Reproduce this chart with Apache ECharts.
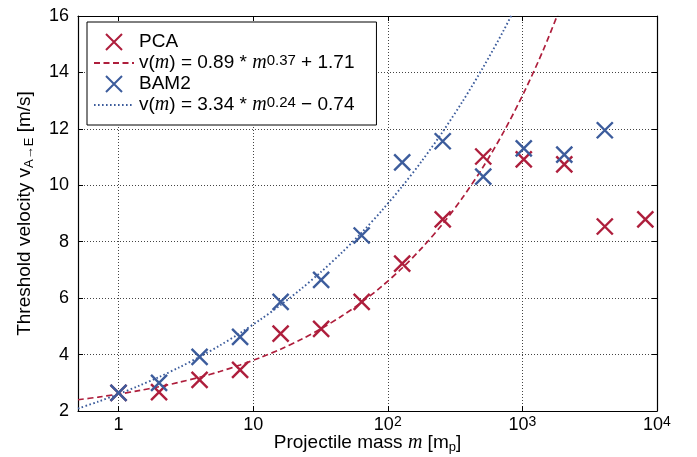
<!DOCTYPE html>
<html>
<head>
<meta charset="utf-8">
<script src="https://cdn.jsdelivr.net/npm/echarts@6/dist/echarts.min.js"></script>
<style>html,body{margin:0;padding:0;background:#fff;}#c{width:697px;height:457px;}</style>
</head>
<body>
<div id="c"></div>
<script>
// Measured data
const massPoints = [1, 2, 4, 8, 16, 32, 64, 128, 256, 512, 1024, 2048, 4096, 8192];
const pcaValues  = [2.64, 2.67, 3.10, 3.46, 4.74, 4.91, 5.87, 7.22, 8.79, 11.02, 10.92, 10.74, 8.54, 8.79];
const bamValues  = [2.64, 3.00, 3.92, 4.63, 5.87, 6.65, 8.22, 10.81, 11.56, 10.31, 11.31, 11.09, 11.95];
// Fit curves
const fitMass = [0.5, 0.707, 1, 1.414, 2, 2.828, 4, 5.657, 8, 11.31, 16, 22.63, 32, 45.25, 64, 90.51, 128, 181.0, 256, 362.0, 512, 724.1, 1024, 1448, 2048];
const pcaFit  = [2.399, 2.493, 2.600, 2.722, 2.860, 3.018, 3.196, 3.400, 3.631, 3.894, 4.192, 4.532, 4.918, 5.357, 5.856, 6.423, 7.068, 7.801, 8.634, 9.581, 10.658, 11.882, 13.274, 14.856, 16.654];
const bamFit  = [2.088, 2.333, 2.600, 2.890, 3.205, 3.547, 3.918, 4.322, 4.762, 5.239, 5.757, 6.321, 6.933, 7.599, 8.322, 9.108, 9.962, 10.890, 11.899, 12.996, 14.187, 15.48, 16.889];
const xTickLabels = {0: '1', 1: '10', 2: '10{sup|2}', 3: '10{sup|3}', 4: '10{sup|4}'};
const yTicks = [2, 4, 6, 8, 10, 12, 14, 16];
const seriesNames = ['PCA', 'v(m) = 0.89 * m^0.37 + 1.71', 'BAM2', 'v(m) = 3.34 * m^0.24 - 0.74'];
const legendLabels = {
  'PCA': 'PCA',
  'v(m) = 0.89 * m^0.37 + 1.71': 'v({i|m}) = 0.89 * {i|m}{sup|0.37} + 1.71',
  'BAM2': 'BAM2',
  'v(m) = 3.34 * m^0.24 - 0.74': 'v({i|m}) = 3.34 * {i|m}{sup|0.24} \u2212 0.74'
};

const RED = '#AE1E3C';
const BLUE = '#3C5C9C';
const FONT = '"Liberation Sans", Arial, sans-serif';
const SERIF = '"Liberation Serif", "Times New Roman", serif';

const pair = (xs, ys) => ys.map((v, i) => [xs[i], v]);
const xPath = 'path://M0,0L10,10M10,0L0,10';

const chart = echarts.init(document.getElementById('c'), null, {renderer: 'canvas'});
const gridLine = {show: true, lineStyle: {color: '#444', width: 1, type: [1, 2]}};
const tickStyle = {show: true, inside: true, length: 5, lineStyle: {color: '#000', width: 1}};
const axisLine = {show: true, lineStyle: {color: '#000', width: 1.2}};
const hiddenDot = {color: 'rgba(0,0,0,0)', borderWidth: 0, opacity: 0};

chart.setOption({
  animation: false,
  textStyle: {fontFamily: FONT},
  grid: {left: 78, right: 40, top: 16, bottom: 46, containLabel: false, outerBoundsMode: 'none'},
  legend: {
    orient: 'vertical',
    left: 87, top: 22,
    padding: [10, 22, 10, 6],
    itemGap: 1,
    itemWidth: 40, itemHeight: 16,
    backgroundColor: '#fff',
    borderColor: '#000', borderWidth: 1,
    data: [
      {name: seriesNames[0]},
      {name: seriesNames[1], itemStyle: hiddenDot},
      {name: seriesNames[2]},
      {name: seriesNames[3], itemStyle: hiddenDot}
    ],
    formatter: n => legendLabels[n],
    textStyle: {
      fontFamily: FONT, fontSize: 19, color: '#000', lineHeight: 20,
      rich: {
        i: {fontFamily: SERIF, fontStyle: 'italic', fontSize: 20, color: '#000', lineHeight: 20},
        sup: {fontFamily: FONT, fontSize: 15, color: '#000', verticalAlign: 'top', lineHeight: 12}
      }
    }
  },
  xAxis: [{
    type: 'log', logBase: 10, min: 0.5, max: 10000,
    name: 'Projectile mass {i|m} [m{sub|p}]',
    nameLocation: 'middle', nameGap: 21, nameMoveOverlap: false,
    nameTextStyle: {
      fontFamily: FONT, fontSize: 19, color: '#000', lineHeight: 22,
      rich: {
        i: {fontFamily: SERIF, fontStyle: 'italic', fontSize: 20, color: '#000', lineHeight: 22},
        sub: {fontFamily: FONT, fontSize: 13, color: '#000', verticalAlign: 'bottom', lineHeight: 10}
      }
    },
    axisLine: axisLine,
    axisTick: tickStyle,
    minorTick: {show: false},
    splitLine: gridLine,
    axisLabel: {
      margin: 4,
      fontFamily: FONT, fontSize: 18, color: '#000', lineHeight: 20,
      formatter: v => {
        const e = Math.round(Math.log10(v));
        if (Math.abs(Math.log10(v) - e) > 1e-6) return '';
        return xTickLabels[e] !== undefined ? xTickLabels[e] : '';
      },
      rich: {
        sup: {fontFamily: FONT, fontSize: 14, color: '#000', verticalAlign: 'top', lineHeight: 11}
      }
    }
  }, {
    type: 'log', logBase: 10, min: 0.5, max: 10000, position: 'top',
    axisLine: axisLine, axisTick: tickStyle, axisLabel: {show: false}, splitLine: {show: false}
  }],
  yAxis: [{
    type: 'value', min: yTicks[0], max: yTicks[yTicks.length - 1], interval: 2,
    name: 'Threshold velocity v{sub|A\u2192E} [m/s]',
    nameLocation: 'middle', nameGap: 42, nameMoveOverlap: false,
    nameTextStyle: {
      fontFamily: FONT, fontSize: 19, color: '#000', lineHeight: 22,
      rich: {
        sub: {fontFamily: FONT, fontSize: 13, color: '#000', verticalAlign: 'bottom', lineHeight: 10}
      }
    },
    axisLine: axisLine, axisTick: tickStyle, splitLine: gridLine,
    axisLabel: {margin: 9, fontFamily: FONT, fontSize: 18, color: '#000'}
  }, {
    type: 'value', min: yTicks[0], max: yTicks[yTicks.length - 1], interval: 2, position: 'right',
    axisLine: axisLine, axisTick: tickStyle, axisLabel: {show: false}, splitLine: {show: false}
  }],
  series: [
    {
      name: seriesNames[1], type: 'line', xAxisIndex: 0, yAxisIndex: 0,
      data: pair(fitMass, pcaFit), showSymbol: false, symbol: 'none', smooth: 0.3, clip: true,
      lineStyle: {color: RED, width: 1.7, type: [6, 3.5]}, itemStyle: {color: RED}, z: 2
    },
    {
      name: seriesNames[3], type: 'line', xAxisIndex: 0, yAxisIndex: 0,
      data: pair(fitMass, bamFit), showSymbol: false, symbol: 'none', smooth: 0.3, clip: true,
      lineStyle: {color: BLUE, width: 1.9, type: [1.6, 2.4]}, itemStyle: {color: BLUE}, z: 2
    },
    {
      name: seriesNames[0], type: 'scatter', xAxisIndex: 0, yAxisIndex: 0,
      data: pair(massPoints, pcaValues), symbol: xPath, symbolSize: 16,
      itemStyle: {color: 'rgba(0,0,0,0)', borderColor: RED, borderWidth: 2.4, opacity: 1}, z: 3
    },
    {
      name: seriesNames[2], type: 'scatter', xAxisIndex: 0, yAxisIndex: 0,
      data: pair(massPoints, bamValues), symbol: xPath, symbolSize: 16,
      itemStyle: {color: 'rgba(0,0,0,0)', borderColor: BLUE, borderWidth: 2.4, opacity: 1}, z: 3
    }
  ]
});
</script>
</body>
</html>
